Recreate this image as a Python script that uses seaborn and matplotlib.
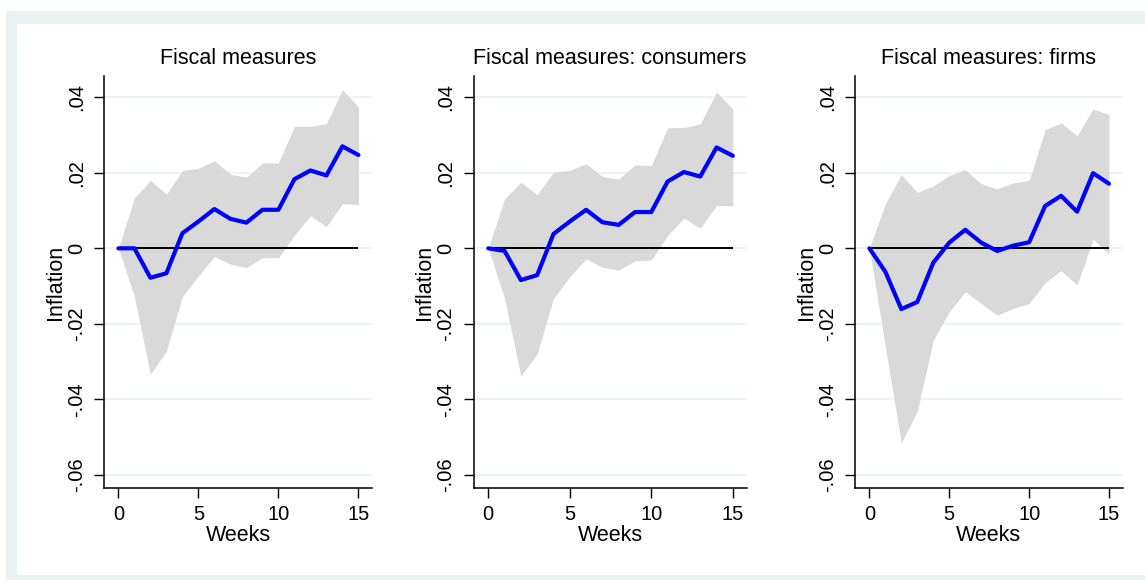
import numpy as np
import pandas as pd
import matplotlib
matplotlib.use("Agg")
import matplotlib.pyplot as plt
from matplotlib.patches import Rectangle
import seaborn as sns

# Données (semaines 0..15)
weeks = list(range(16))

titles = ["Fiscal measures", "Fiscal measures: consumers", "Fiscal measures: firms"]

# Fiscal measures
irf_all = [0.0, 0.0, -0.0078, -0.0066, 0.0040, 0.0071, 0.0104, 0.0078,
           0.0068, 0.0102, 0.0102, 0.0183, 0.0206, 0.0193, 0.0270, 0.0247]
up_all = [0.0, 0.0133, 0.0180, 0.0143, 0.0206, 0.0212, 0.0232, 0.0196,
          0.0188, 0.0226, 0.0226, 0.0323, 0.0323, 0.0330, 0.0420, 0.0374]
lo_all = [0.0, -0.0128, -0.0334, -0.0272, -0.0128, -0.0073, -0.0022, -0.0042,
          -0.0051, -0.0025, -0.0025, 0.0035, 0.0086, 0.0058, 0.0118, 0.0116]

# Fiscal measures: consumers
irf_cons = [0.0, -0.0007, -0.0084, -0.0071, 0.0038, 0.0071, 0.0102, 0.0069,
            0.0062, 0.0096, 0.0096, 0.0177, 0.0202, 0.0190, 0.0267, 0.0245]
up_cons = [0.0, 0.0131, 0.0175, 0.0142, 0.0202, 0.0206, 0.0224, 0.0190,
           0.0183, 0.0221, 0.0219, 0.0319, 0.0320, 0.0329, 0.0414, 0.0369]
lo_cons = [0.0, -0.0133, -0.0338, -0.0279, -0.0133, -0.0075, -0.0028, -0.0050,
           -0.0058, -0.0033, -0.0031, 0.0034, 0.0080, 0.0053, 0.0113, 0.0113]

# Fiscal measures: firms
irf_firms = [0.0, -0.0062, -0.0161, -0.0142, -0.0038, 0.0015, 0.0049, 0.0015,
             -0.0007, 0.0007, 0.0016, 0.0112, 0.0139, 0.0097, 0.0199, 0.0171]
up_firms = [0.0, 0.0118, 0.0195, 0.0148, 0.0165, 0.0193, 0.0208, 0.0171,
            0.0157, 0.0173, 0.0180, 0.0314, 0.0332, 0.0298, 0.0369, 0.0354]
lo_firms = [0.0, -0.0261, -0.0515, -0.0432, -0.0243, -0.0168, -0.0115, -0.0146,
            -0.0177, -0.0159, -0.0146, -0.0091, -0.0059, -0.0097, 0.0024, -0.0015]

yticks = [0.04, 0.02, 0.0, -0.02, -0.04, -0.06]
ytick_labels = [".04", ".02", "0", "-.02", "-.04", "-.06"]
xticks = [0, 5, 10, 15]

sns.set_style("white")
plt.rcParams["font.family"] = ["Liberation Sans", "DejaVu Sans"]
plt.rcParams["text.color"] = "black"
plt.rcParams["axes.labelcolor"] = "black"

W, H = 1145, 580
fig = plt.figure(figsize=(W / 100, H / 100), dpi=100)
fig.patch.set_facecolor("white")

# cadre gris-bleu façon Stata
fig.patches.append(Rectangle((6 / W, 0), 1.0, 1 - 11 / H, transform=fig.transFigure,
                             facecolor="#EAF2F3", edgecolor="none", zorder=-2))
fig.patches.append(Rectangle((17 / W, 5 / H), 1.0, 1 - 29 / H, transform=fig.transFigure,
                             facecolor="white", edgecolor="none", zorder=-1))

# positions des panneaux (pixels: gauche, droite)
panels_px = [(104, 372), (473.6, 746.7), (855, 1122.6)]
top_px, bot_px = 76, 488

series = [(irf_all, lo_all, up_all), (irf_cons, lo_cons, up_cons), (irf_firms, lo_firms, up_firms)]

for i, (title, (irf, lo, up)) in enumerate(zip(titles, series)):
    l, r = panels_px[i]
    ax = fig.add_axes([l / W, (H - bot_px) / H, (r - l) / W, (bot_px - top_px) / H])
    ax.set_facecolor("white")
    df = pd.DataFrame({"week": weeks, "irf": irf, "lo": lo, "up": up})

    for yt in yticks:
        ax.axhline(yt, color="#EAF2F3", lw=1.2, zorder=0)
    ax.fill_between(df["week"], df["lo"], df["up"], color="#D9D9D9", lw=0, zorder=1)
    ax.hlines(0, df["week"].min(), df["week"].max(), color="black", lw=1.4, zorder=2)
    sns.lineplot(data=df, x="week", y="irf", ax=ax, color="#0000FF", lw=3, zorder=3)

    ax.set_xlim(-0.9, 15.85)
    ax.set_ylim(-0.06346, 0.04562)
    ax.set_xticks(xticks)
    ax.set_xticklabels([str(t) for t in xticks], fontsize=14.5)
    ax.set_yticks(yticks)
    ax.set_yticklabels(ytick_labels, fontsize=14.5, rotation=90, va="center")
    ax.tick_params(axis="both", bottom=True, left=True, direction="out", length=7,
                   width=1, color="black", labelcolor="black", pad=5)
    ax.tick_params(axis="y", pad=6)

    for side in ["top", "right"]:
        ax.spines[side].set_visible(False)
    for side in ["left", "bottom"]:
        ax.spines[side].set_color("black")
        ax.spines[side].set_linewidth(1.1)

    ax.set_title(title, fontsize=15.5, pad=9, color="black")
    ax.set_xlabel("Weeks", fontsize=15.5, labelpad=1)
    ax.set_ylabel("Inflation", fontsize=15.5, labelpad=1)

fig.savefig("out.png", dpi=100, facecolor=fig.get_facecolor())
